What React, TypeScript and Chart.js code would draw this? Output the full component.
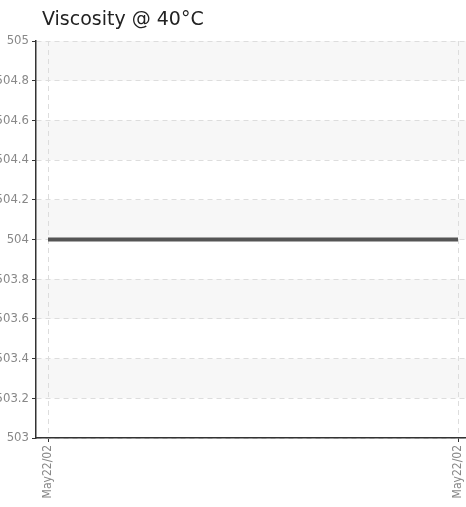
import React, { useEffect, useRef } from "react";
import { Chart, registerables } from "chart.js";

Chart.register(...registerables);

const categories = ["May22/02", "May22/02"];
const viscosity = [504, 504];
const yTickValues = [503, 503.2, 503.4, 503.6, 503.8, 504, 504.2, 504.4, 504.6, 504.8, 505];
const chartTitle = "Viscosity @ 40°C";

const bandPlugin = {
  id: "bands",
  beforeDraw(chart: any) {
    const { ctx, chartArea } = chart;
    const ys = chart.scales.y;
    const vals = [...yTickValues].sort((a, b) => b - a);
    ctx.save();
    ctx.fillStyle = "#f7f7f7";
    for (let i = 0; i < vals.length - 1; i++) {
      if (i % 2 === 0) {
        const top = ys.getPixelForValue(vals[i]);
        const bot = ys.getPixelForValue(vals[i + 1]);
        ctx.fillRect(chartArea.left, top, chartArea.right - chartArea.left, bot - top);
      }
    }
    ctx.restore();
  },
};

export default function App() {
  const ref = useRef<HTMLCanvasElement | null>(null);
  useEffect(() => {
    if (!ref.current) return;
    const family = "'DejaVu Sans Condensed', 'DejaVu Sans', sans-serif";
    const chart = new Chart(ref.current, {
      type: "line",
      data: {
        datasets: [
          {
            data: viscosity.map((v, i) => ({ x: i, y: v })),
            borderColor: "#555555",
            borderWidth: 4,
            pointRadius: 0,
            fill: false,
            tension: 0,
          },
        ],
      },
      options: {
        animation: false,
        responsive: true,
        maintainAspectRatio: false,
        layout: { autoPadding: false, padding: { top: 41, right: 0, bottom: 0, left: 0 } },
        plugins: { legend: { display: false }, tooltip: { enabled: false }, title: { display: false } },
        scales: {
          x: {
            type: "linear",
            min: -12 / 410,
            max: 1 + 8 / 410,
            afterBuildTicks: (s: any) => {
              s.ticks = categories.map((_, i) => ({ value: i }));
            },
            afterFit: (s: any) => {
              s.height = 69;
              s.paddingLeft = 0;
              s.paddingRight = 0;
            },
            ticks: {
              autoSkip: false,
              minRotation: 90,
              maxRotation: 90,
              padding: 3,
              color: "#888888",
              font: { family, size: 12 },
              callback: (_v: any, i: number) => categories[i],
            },
            grid: {
              color: "#dddddd",
              lineWidth: 1,
              tickColor: "#333333",
              tickLength: 4,
              tickWidth: 1,
              tickBorderDash: [],
            },
            border: { display: true, color: "#333333", width: 1.5, dash: [5, 4] },
          },
          y: {
            type: "linear",
            min: 503,
            max: 505,
            afterBuildTicks: (s: any) => {
              s.ticks = yTickValues.map((v) => ({ value: v }));
            },
            afterFit: (s: any) => {
              s.width = 36;
              s.paddingTop = 0;
              s.paddingBottom = 0;
            },
            ticks: {
              padding: 3,
              color: "#888888",
              font: { family, size: 13 },
              callback: (v: any) => String(Math.round(Number(v) * 10) / 10),
            },
            grid: {
              color: "#dddddd",
              lineWidth: 1,
              tickColor: "#333333",
              tickLength: 4,
              tickWidth: 1,
              tickBorderDash: [],
            },
            border: { display: true, color: "#333333", width: 1.5, dash: [5, 4] },
          },
        },
      },
      plugins: [bandPlugin],
    });
    return () => chart.destroy();
  }, []);

  return (
    <div style={{ position: "absolute", left: 0, top: 0, width: 466, height: 507 }}>
      <canvas ref={ref} />
      <div
        style={{
          position: "absolute",
          left: 42,
          top: 9,
          fontFamily: "'DejaVu Sans', sans-serif",
          fontSize: 19,
          lineHeight: "19px",
          color: "#222222",
          whiteSpace: "nowrap",
        }}
      >
        {chartTitle}
      </div>
    </div>
  );
}
